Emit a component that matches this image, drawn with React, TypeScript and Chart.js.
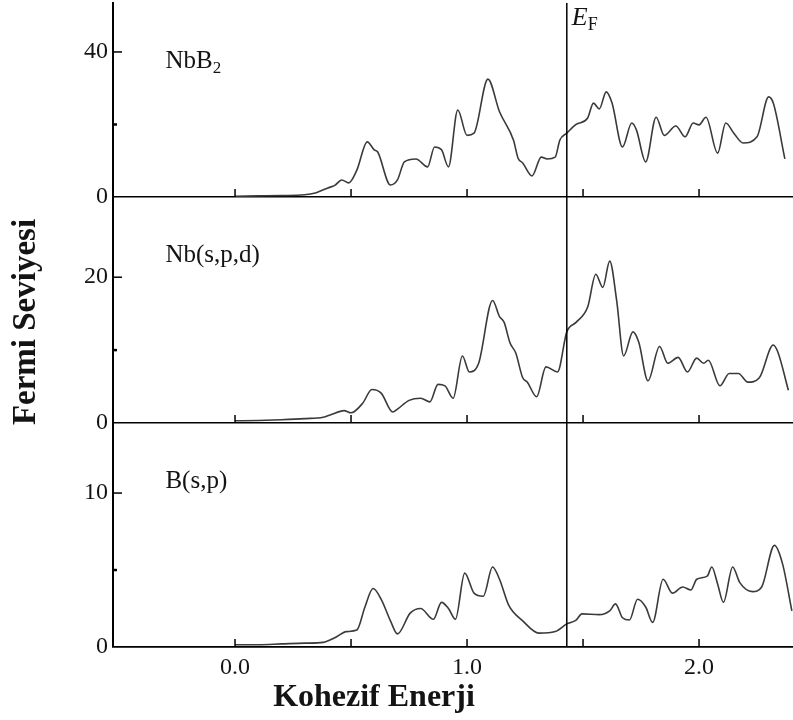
import React, { useEffect, useRef } from 'react';
import { Chart, registerables } from 'chart.js';

Chart.register(...registerables);

// ---- data -------------------------------------------------------------
const EF = 1.43;
const X_MIN = -0.526;
const X_MAX = 2.405;
const X_TICKS = [0, 0.5, 1, 1.5, 2];
const X_LABELED = [0, 1, 2];

const NBB2_E = [0.0, 0.1, 0.2, 0.3, 0.35, 0.4, 0.43, 0.46, 0.49, 0.525, 0.57, 0.6, 0.615, 0.67, 0.7, 0.73, 0.78, 0.83, 0.86, 0.89, 0.92, 0.96, 1.0, 1.03, 1.09, 1.14, 1.2, 1.22, 1.24, 1.28, 1.32, 1.345, 1.38, 1.4, 1.43, 1.47, 1.52, 1.545, 1.57, 1.6, 1.625, 1.67, 1.71, 1.73, 1.77, 1.815, 1.85, 1.9, 1.94, 1.975, 2.0, 2.03, 2.08, 2.115, 2.15, 2.19, 2.25, 2.3, 2.32, 2.37];
const NBB2_DOS = [0.2, 0.3, 0.4, 0.6, 1.2, 2.5, 3.2, 4.7, 3.9, 7.4, 15.2, 13.0, 12.4, 3.3, 4.7, 9.7, 10.5, 8.3, 13.8, 13.0, 8.3, 24.0, 17.0, 17.6, 32.5, 23.5, 15.7, 10.7, 9.4, 5.8, 11.0, 10.5, 11.0, 15.7, 17.6, 20.0, 21.8, 25.9, 24.3, 29.0, 25.9, 13.8, 20.4, 18.5, 9.7, 22.0, 17.0, 19.6, 16.6, 20.4, 19.9, 22.0, 12.1, 20.4, 17.6, 14.9, 16.6, 27.6, 25.9, 10.5];

const NB_E = [0.0, 0.1, 0.2, 0.3, 0.38, 0.41, 0.47, 0.5, 0.55, 0.59, 0.63, 0.68, 0.7, 0.75, 0.8, 0.84, 0.875, 0.905, 0.94, 0.98, 1.01, 1.05, 1.11, 1.14, 1.16, 1.185, 1.21, 1.24, 1.26, 1.3, 1.34, 1.39, 1.43, 1.47, 1.52, 1.555, 1.585, 1.615, 1.645, 1.675, 1.715, 1.74, 1.78, 1.83, 1.865, 1.91, 1.95, 1.99, 2.02, 2.04, 2.09, 2.13, 2.17, 2.21, 2.26, 2.32, 2.34, 2.385];
const NB_DOS = [0.3, 0.35, 0.45, 0.6, 0.8, 1.1, 1.7, 1.4, 2.7, 4.6, 4.1, 1.5, 1.9, 3.1, 3.4, 2.9, 5.3, 5.1, 3.4, 9.2, 7.0, 8.2, 16.8, 14.6, 13.8, 11.0, 9.6, 6.2, 5.6, 3.6, 7.7, 7.0, 12.5, 13.8, 15.9, 20.4, 18.6, 22.2, 16.8, 9.2, 12.5, 11.1, 5.8, 10.5, 8.2, 9.0, 7.0, 8.9, 8.2, 8.6, 5.1, 6.8, 6.8, 5.6, 6.2, 10.7, 9.7, 4.5];

const B_E = [0.0, 0.1, 0.2, 0.3, 0.38, 0.43, 0.48, 0.525, 0.56, 0.595, 0.63, 0.67, 0.7, 0.755, 0.8, 0.855, 0.89, 0.92, 0.95, 0.99, 1.03, 1.07, 1.11, 1.14, 1.18, 1.24, 1.31, 1.38, 1.43, 1.47, 1.495, 1.57, 1.615, 1.64, 1.67, 1.7, 1.735, 1.77, 1.8, 1.845, 1.885, 1.93, 1.965, 1.99, 2.035, 2.055, 2.08, 2.105, 2.145, 2.175, 2.23, 2.27, 2.325, 2.36, 2.4];
const B_DOS = [0.15, 0.15, 0.2, 0.25, 0.3, 0.6, 1.0, 1.1, 2.6, 3.8, 3.1, 1.7, 0.85, 2.2, 2.5, 1.8, 2.9, 2.5, 1.8, 4.8, 3.5, 3.3, 5.2, 4.4, 2.7, 1.7, 0.9, 1.0, 1.5, 1.75, 2.15, 2.1, 2.35, 2.8, 1.9, 1.75, 3.1, 2.6, 1.6, 4.4, 3.5, 3.9, 3.7, 4.4, 4.6, 5.2, 4.1, 2.9, 5.2, 4.2, 3.6, 3.9, 6.6, 5.4, 2.35];

const PANEL_NAMES = ['NbB', 'Nb(s,p,d)', 'B(s,p)'];
const Y_MAX = [53.5, 31, 14.55];
const Y_MAJOR = [[0, 40], [0, 20], [0, 10]];
const Y_MINOR = [[20], [10], [5]];

// ---- styling ----------------------------------------------------------
const SERIF = '"Liberation Serif", "Times New Roman", serif';
const TEXT = '#141414';
const LINE = '#3a3a3a';

const pts = (xs: number[], ys: number[]) => xs.map((x, i) => ({ x, y: ys[i] }));

const decorPlugin = {
  id: 'decor',
  afterDatasetsDraw(chart: any) {
    const { ctx, chartArea, scales } = chart;
    const xs = scales.x;
    const yss = [scales.y1, scales.y2, scales.y3];
    ctx.save();
    ctx.strokeStyle = '#000';
    const seg = (x1: number, y1: number, x2: number, y2: number, w: number) => {
      ctx.lineWidth = w;
      ctx.beginPath();
      ctx.moveTo(x1, y1);
      ctx.lineTo(x2, y2);
      ctx.stroke();
    };
    // Fermi level line
    const ex = xs.getPixelForValue(EF);
    seg(ex, chartArea.top, ex, chartArea.bottom, 1.5);

    yss.forEach((ys: any, i: number) => {
      const base = ys.getPixelForValue(0);
      X_TICKS.forEach((v) => {
        const px = xs.getPixelForValue(v);
        seg(px, base, px, base - 8, 1.5);
      });
      Y_MAJOR[i].forEach((v) => {
        if (v === 0) return;
        const py = ys.getPixelForValue(v);
        seg(chartArea.left, py, chartArea.left + 9, py, 1.5);
      });
      Y_MINOR[i].forEach((v) => {
        const py = ys.getPixelForValue(v);
        seg(chartArea.left, py, chartArea.left + 4, py, 2.5);
      });
      // panel names
      const lx = xs.getPixelForValue(-0.3);
      const ly = ys.top + 65;
      ctx.fillStyle = TEXT;
      ctx.textAlign = 'left';
      ctx.textBaseline = 'alphabetic';
      ctx.font = `25px ${SERIF}`;
      ctx.fillText(PANEL_NAMES[i], lx, ly);
      if (i === 0) {
        const w = ctx.measureText(PANEL_NAMES[i]).width;
        ctx.font = `17px ${SERIF}`;
        ctx.fillText('2', lx + w, ly + 5);
      }
    });

    // E_F label
    ctx.fillStyle = TEXT;
    ctx.textAlign = 'left';
    ctx.textBaseline = 'alphabetic';
    ctx.font = `italic 26px ${SERIF}`;
    ctx.fillText('E', ex + 5, chartArea.top + 22);
    const ew = ctx.measureText('E').width;
    ctx.font = `18px ${SERIF}`;
    ctx.fillText('F', ex + 5 + ew, chartArea.top + 27);

    // axis titles
    ctx.font = `bold 32px ${SERIF}`;
    ctx.textAlign = 'center';
    ctx.fillText('Kohezif Enerji', 374, 706);
    ctx.save();
    ctx.translate(35, 322);
    ctx.rotate(-Math.PI / 2);
    ctx.font = `bold 33px ${SERIF}`;
    ctx.fillText('Fermi Seviyesi', 0, 0);
    ctx.restore();
    ctx.restore();
  },
};

function yAxis(i: number, weight: number, stackWeight: number) {
  return {
    type: 'linear',
    position: 'left',
    stack: 'dos',
    stackWeight,
    weight,
    min: 0,
    max: Y_MAX[i],
    afterBuildTicks: (s: any) => {
      s.ticks = Y_MAJOR[i].map((v) => ({ value: v }));
    },
    afterFit: (s: any) => {
      s.width = 113;
      s.paddingTop = 0;
      s.paddingBottom = 0;
    },
    ticks: {
      autoSkip: false,
      padding: 5,
      color: TEXT,
      font: { family: SERIF, size: 24, lineHeight: 1 },
    },
    grid: {
      drawOnChartArea: true,
      drawTicks: false,
      lineWidth: 1.5,
      color: (c: any) => (c.tick && c.tick.value === 0 ? '#000' : 'rgba(0,0,0,0)'),
    },
    border: { display: true, color: '#000', width: 2 },
  };
}

export default function App() {
  const ref = useRef<HTMLCanvasElement | null>(null);
  useEffect(() => {
    if (!ref.current) return;
    const ds = (data: any[], axis: string) => ({
      data,
      yAxisID: axis,
      borderColor: LINE,
      borderWidth: 1.6,
      pointRadius: 0,
      fill: false,
      cubicInterpolationMode: 'monotone',
    });
    const chart = new Chart(ref.current, {
      type: 'line',
      data: {
        datasets: [
          ds(pts(NBB2_E, NBB2_DOS), 'y1'),
          ds(pts(NB_E, NB_DOS), 'y2'),
          ds(pts(B_E, B_DOS), 'y3'),
        ],
      },
      options: {
        responsive: false,
        animation: false,
        layout: { padding: { top: 3, left: 0, right: 0, bottom: 0 } },
        plugins: { legend: { display: false }, tooltip: { enabled: false } },
        scales: {
          x: {
            type: 'linear',
            position: 'bottom',
            min: X_MIN,
            max: X_MAX,
            afterBuildTicks: (s: any) => {
              s.ticks = X_TICKS.map((v) => ({ value: v }));
            },
            afterFit: (s: any) => {
              s.height = 73;
              s.paddingLeft = 0;
              s.paddingRight = 0;
            },
            ticks: {
              autoSkip: false,
              maxRotation: 0,
              padding: 1,
              color: TEXT,
              font: { family: SERIF, size: 24, lineHeight: 1 },
              callback: (v: any) => (X_LABELED.includes(Number(v)) ? Number(v).toFixed(1) : ''),
            },
            grid: { display: false },
            border: { display: true, color: '#000', width: 1.5 },
          },
          y1: yAxis(0, 3, 194),
          y2: yAxis(1, 2, 226),
          y3: yAxis(2, 1, 224),
        },
      } as any,
      plugins: [decorPlugin],
    } as any);
    return () => chart.destroy();
  }, []);
  return (
    <canvas
      ref={ref}
      width={793}
      height={720}
      style={{ position: 'absolute', left: 0, top: 0, display: 'block', width: 793, height: 720 }}
    />
  );
}
